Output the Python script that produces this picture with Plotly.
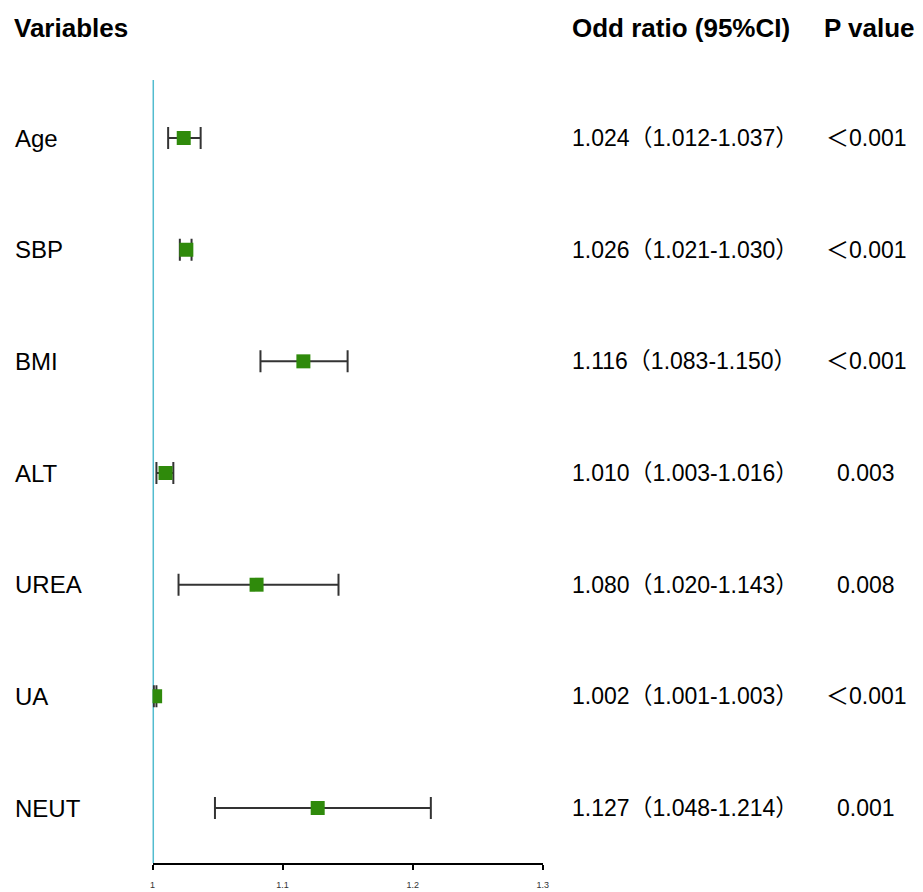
import plotly.graph_objects as go

variables = ["Age", "SBP", "BMI", "ALT", "UREA", "UA", "NEUT"]
odds = [1.024, 1.026, 1.116, 1.010, 1.080, 1.002, 1.127]
ci_low = [1.012, 1.021, 1.083, 1.003, 1.020, 1.001, 1.048]
ci_high = [1.037, 1.030, 1.150, 1.016, 1.143, 1.003, 1.214]
or_text = ["1.024（1.012-1.037）", "1.026（1.021-1.030）", "1.116（1.083-1.150）",
           "1.010（1.003-1.016）", "1.080（1.020-1.143）", "1.002（1.001-1.003）",
           "1.127（1.048-1.214）"]
p_text = ["＜0.001", "＜0.001", "＜0.001", "0.003", "0.008", "＜0.001", "0.001"]
x_ticks = [1, 1.1, 1.2, 1.3]

W, H = 923, 892
FONT = "Liberation Sans, Arial, Noto Sans CJK SC, sans-serif"

ypos = list(range(len(variables)))
err_plus = [h - o for h, o in zip(ci_high, odds)]
err_minus = [o - l for o, l in zip(odds, ci_low)]

fig = go.Figure()
fig.add_trace(go.Scatter(
    x=odds, y=ypos, mode="markers",
    marker=dict(symbol="square", size=14, color="#2F8A0B",
                line=dict(width=0)),
    error_x=dict(type="data", array=err_plus, arrayminus=err_minus,
                 color="#333333", thickness=2, width=11),
    showlegend=False, hoverinfo="skip",
))

x0_px, x1_px = 151, 545
y_top_px, y_bot_px = 80, 863
row0_px, row_step = 138, 111.67

y_top_val = (y_top_px - row0_px) / row_step
y_bot_val = (y_bot_px - row0_px) / row_step

fig.update_layout(
    width=W, height=H,
    margin=dict(l=0, r=0, t=0, b=0),
    paper_bgcolor="white", plot_bgcolor="white",
    font=dict(family=FONT, color="black"),
    xaxis=dict(
        domain=[x0_px / W, x1_px / W], range=[1, 1.3],
        tickvals=x_ticks, ticktext=["1", "1.1", "1.2", "1.3"],
        showgrid=False, zeroline=False,
        showline=True, linecolor="black", linewidth=2,
        ticks="outside", ticklen=5, tickwidth=2, tickcolor="black",
        tickfont=dict(size=9, color="#333333"), ticklabelstandoff=7,
    ),
    yaxis=dict(
        domain=[1 - y_bot_px / H, 1 - y_top_px / H],
        range=[y_bot_val, y_top_val],
        showgrid=False, zeroline=False, showline=False,
        showticklabels=False, ticks="",
    ),
)

fig.add_shape(type="line", xref="x", yref="paper", x0=1, x1=1,
              y0=1 - y_bot_px / H, y1=1 - y_top_px / H,
              line=dict(color="#52BCCF", width=3), layer="below")

ann = []
def add(text, xpx, ypx, size, bold=False, anchor="left"):
    ann.append(dict(
        text=f"<b>{text}</b>" if bold else text,
        x=xpx / W, y=1 - ypx / H, xref="paper", yref="paper",
        xanchor=anchor, yanchor="middle", showarrow=False,
        font=dict(size=size, family=FONT, color="black"),
    ))

add("Variables", 9, 28, 26, bold=True)
add("Odd ratio (95%CI)", 573, 28, 26, bold=True)
add("P value", 827, 28, 26, bold=True)

for i, v in enumerate(variables):
    ypx = row0_px + row_step * i
    add(v, 10, ypx, 24)
    add(or_text[i], 573, ypx, 23)
    add(p_text[i], 872, ypx, 23, anchor="center")

fig.update_layout(annotations=ann)
fig.write_html("out.html", post_script="document.body.style.margin='0';",
               config={"displayModeBar": False})
